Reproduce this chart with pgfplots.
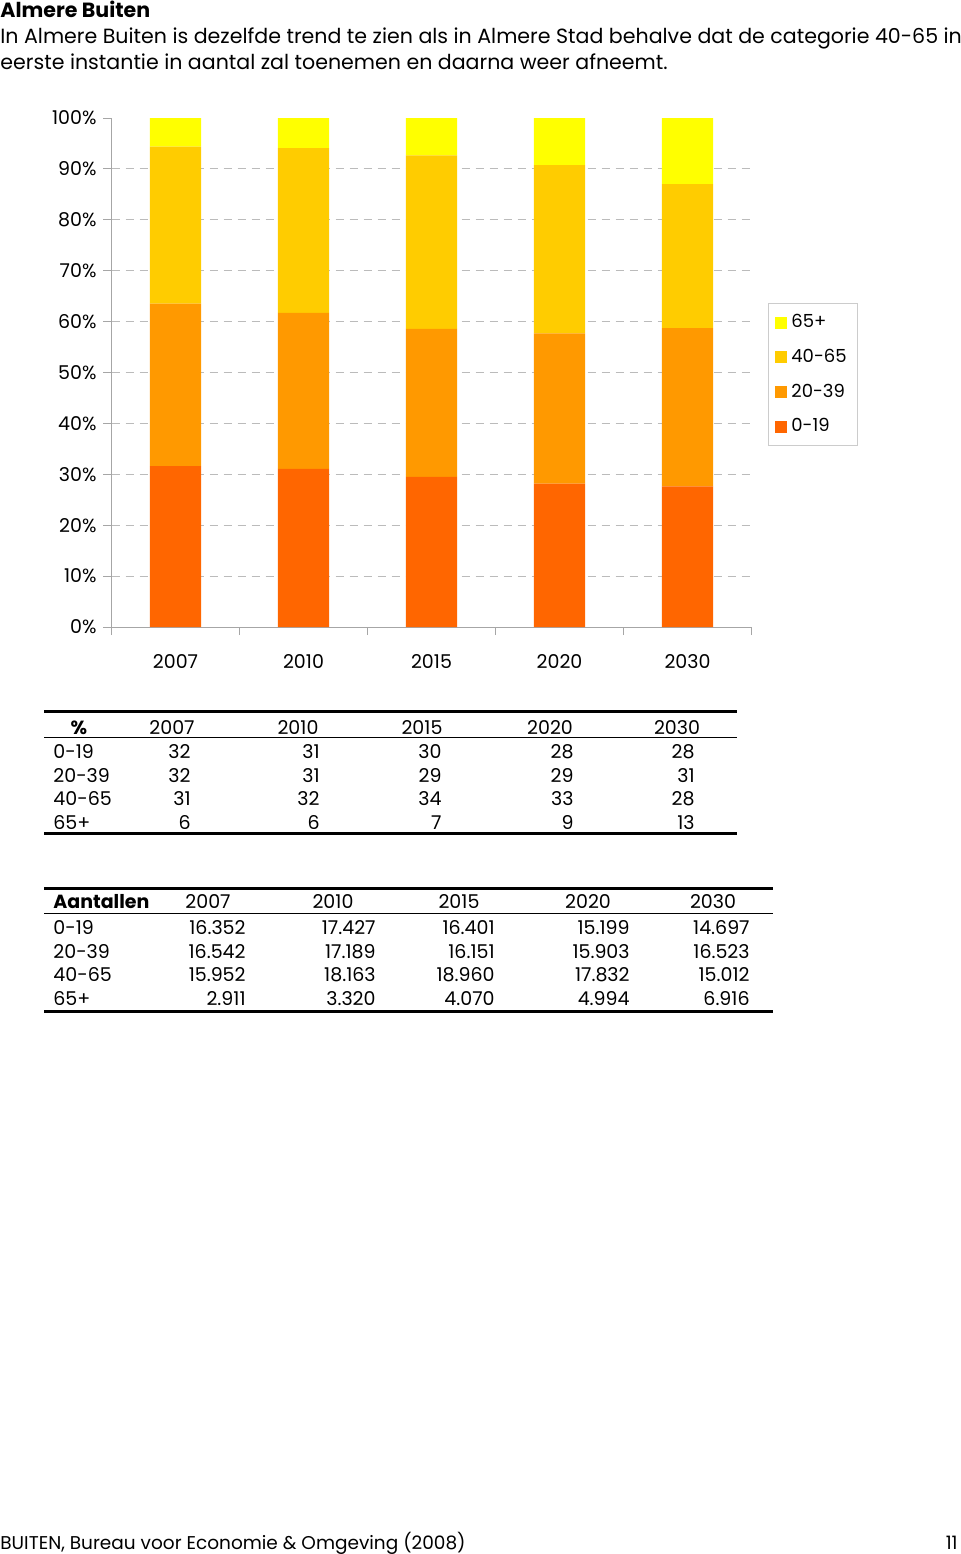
\documentclass[border=0pt]{standalone}
\usepackage{pgfplots}
\pgfplotsset{compat=1.18}
\usepackage{fontspec}
\setmainfont{Poppins}
\definecolor{cA}{HTML}{FF6600}
\definecolor{cB}{HTML}{FF9900}
\definecolor{cC}{HTML}{FFCC00}
\definecolor{cD}{HTML}{FFFF00}
\definecolor{axgray}{HTML}{A6A6A6}
\definecolor{gridgray}{HTML}{BBBBBB}
\newcommand{\tf}{\fontsize{9.5}{11}\selectfont}
\newcommand{\bodyf}{\fontsize{10.28}{12}\selectfont}
\pgfplotsset{sqlegend/.style={legend image code/.code={\fill[##1] (0pt,-3pt) rectangle (6pt,3pt);}}}
\begin{document}
\begin{tikzpicture}
\path[use as bounding box] (0,0) rectangle (480pt,-777pt);
\begin{scope}[x=0.5pt,y=-0.5pt,every node/.style={inner sep=0pt}]
% heading
\node[anchor=base west,font=\bodyf\bfseries] at (0,17) {Almere Buiten};
\node[anchor=base west,font=\bodyf] at (0,43) {In Almere Buiten is dezelfde trend te zien als in Almere Stad behalve dat de categorie 40-65 in};
\node[anchor=base west,font=\bodyf] at (0,69) {eerste instantie in aantal zal toenemen en daarna weer afneemt.};
% table 1
\draw[line width=1.5pt] (44,711) -- (737,711);
\draw[line width=0.5pt] (44,737.5) -- (737,737.5);
\draw[line width=1.5pt] (44,833) -- (737,833);
\begin{scope}[every node/.append style={font=\tf}]
\node[anchor=base,font=\tf\bfseries] at (79,734) {\%};
\foreach \x/\t in {172/2007,298/2010,422/2015,550/2020,677/2030}
  \node[anchor=base] at (\x,734) {\t};
\foreach \y/\l/\a/\b/\c/\d/\e in {758/0-19/32/31/30/28/28,782/20-39/32/31/29/29/31,805/40-65/31/32/34/33/28,829/65+/6/6/7/9/13}{
  \node[anchor=base west] at (53,\y) {\l};
  \node[anchor=base east] at (191,\y) {\a};
  \node[anchor=base east] at (320,\y) {\b};
  \node[anchor=base east] at (442,\y) {\c};
  \node[anchor=base east] at (574,\y) {\d};
  \node[anchor=base east] at (695,\y) {\e};
}
% table 2
\draw[line width=1.5pt] (44,888) -- (773,888);
\draw[line width=0.5pt] (44,913) -- (773,913);
\draw[line width=1.5pt] (44,1011) -- (773,1011);
\node[anchor=base west,font=\tf\bfseries] at (53,908) {Aantallen};
\foreach \x/\t in {208/2007,333/2010,459/2015,588/2020,713/2030}
  \node[anchor=base] at (\x,908) {\t};
\foreach \y/\l/\a/\b/\c/\d/\e in {934/0-19/16.352/17.427/16.401/15.199/14.697,958/20-39/16.542/17.189/16.151/15.903/16.523,981/40-65/15.952/18.163/18.960/17.832/15.012,1005/65+/2.911/3.320/4.070/4.994/6.916}{
  \node[anchor=base west] at (53,\y) {\l};
  \node[anchor=base east] at (246,\y) {\a};
  \node[anchor=base east] at (376,\y) {\b};
  \node[anchor=base east] at (495,\y) {\c};
  \node[anchor=base east] at (630,\y) {\d};
  \node[anchor=base east] at (750,\y) {\e};
}
% footer
\node[anchor=base west,font=\fontsize{9.25}{11}\selectfont] at (0,1549) {BUITEN, Bureau voor Economie \& Omgeving (2008)};
\node[anchor=base east,font=\fontsize{9.25}{11}\selectfont] at (958,1549) {11};
\end{scope}
\end{scope}
\begin{axis}[
  at={(55.75pt,-313.5pt)}, anchor=south west,
  scale only axis, width=320pt, height=254.5pt,
  ybar stacked, bar width=0.4,
  xmin=-0.5, xmax=4.5, ymin=0, ymax=100,
  axis x line*=bottom, axis y line*=left,
  axis line style={axgray,-},
  tick align=outside, major tick length=4pt,
  tick style={axgray, line width=0.5pt},
  xtick={-0.5,0.5,1.5,2.5,3.5,4.5}, xticklabels={},
  extra x ticks={0,1,2,3,4}, extra x tick labels={2007,2010,2015,2020,2030},
  extra x tick style={major tick length=0pt, xticklabel style={yshift=-10pt}},
  ytick={0,10,...,90},
  yticklabels={0\%,10\%,20\%,30\%,40\%,50\%,60\%,70\%,80\%,90\%},
  extra y ticks={100}, extra y tick labels={100\%},
  extra y tick style={grid=none},
  ymajorgrids, grid style={gridgray, dash pattern=on 4pt off 3pt, line width=0.5pt},
  ticklabel style={font=\tf},
  legend style={at={(1.0258,0.6365)}, anchor=north west, draw=gray!40,
    font=\fontsize{9}{11}\selectfont, row sep=5.2pt, inner xsep=3.5pt, inner ysep=3.5pt},
  legend cell align=left, reverse legend,
]
\addplot[fill=cA, draw=none, sqlegend] coordinates {(0,31.59) (1,31.06) (2,29.51) (3,28.18) (4,27.65)};
\addplot[fill=cB, draw=none, sqlegend] coordinates {(0,31.96) (1,30.64) (2,29.06) (3,29.49) (4,31.09)};
\addplot[fill=cC, draw=none, sqlegend] coordinates {(0,30.82) (1,32.38) (2,34.11) (3,33.07) (4,28.25)};
\addplot[fill=cD, draw=none, sqlegend] coordinates {(0,5.62) (1,5.92) (2,7.32) (3,9.26) (4,13.00)};
\legend{0-19,20-39,40-65,65+}
\end{axis}
\end{tikzpicture}
\end{document}
